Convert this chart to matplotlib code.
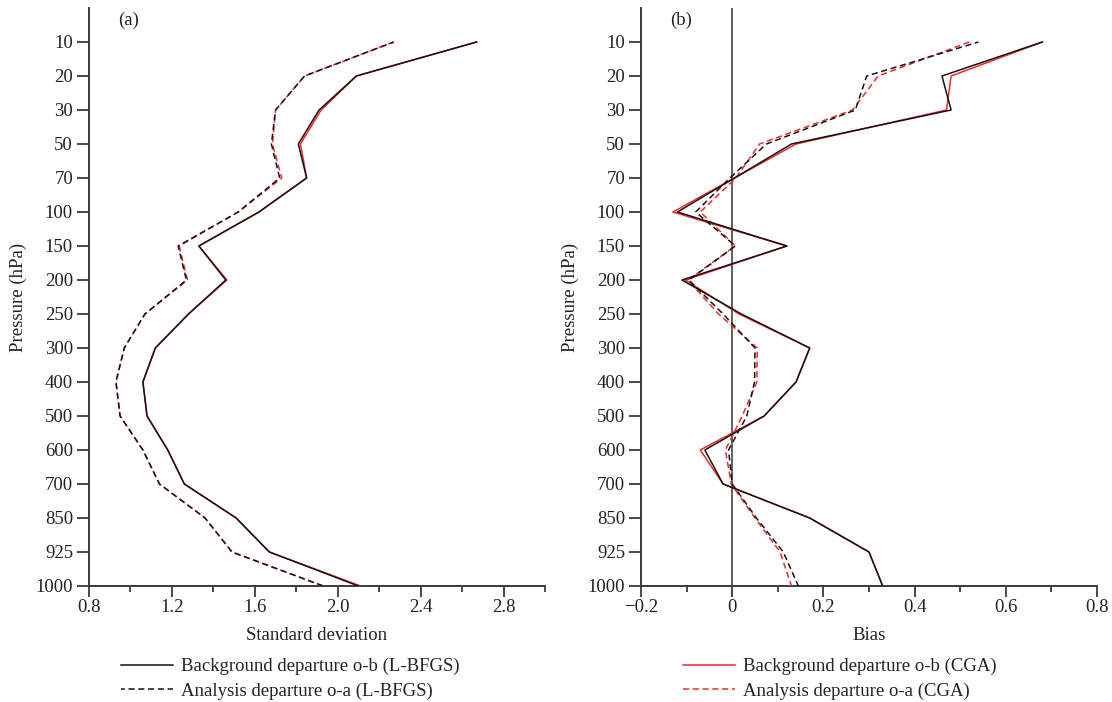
import numpy as np
import matplotlib
matplotlib.use("Agg")
import matplotlib.pyplot as plt
from matplotlib.ticker import MultipleLocator

plt.rcParams['font.family'] = ['Liberation Serif', 'DejaVu Serif']
plt.rcParams['mathtext.fontset'] = 'stix'

# ---------------- data ----------------
levels = ["10", "20", "30", "50", "70", "100", "150", "200", "250", "300",
          "400", "500", "600", "700", "850", "925", "1000"]

# (a) standard deviation
std_ob_lbfgs = [2.67, 2.09, 1.91, 1.81, 1.85, 1.62, 1.33, 1.46, 1.28, 1.12,
                1.06, 1.08, 1.18, 1.26, 1.51, 1.67, 2.10]
std_oa_lbfgs = [2.27, 1.84, 1.70, 1.68, 1.72, 1.52, 1.23, 1.27, 1.07, 0.97,
                0.93, 0.95, 1.06, 1.14, 1.36, 1.49, 1.93]
std_ob_cga = [2.67, 2.09, 1.92, 1.82, 1.85, 1.62, 1.33, 1.465, 1.28, 1.12,
              1.06, 1.08, 1.18, 1.26, 1.51, 1.67, 2.11]
std_oa_cga = [2.27, 1.84, 1.70, 1.685, 1.73, 1.52, 1.235, 1.275, 1.07, 0.97,
              0.93, 0.95, 1.06, 1.14, 1.36, 1.49, 1.93]

# (b) bias
bias_ob_lbfgs = [0.68, 0.46, 0.48, 0.13, 0.005, -0.12, 0.12, -0.11, 0.02, 0.17,
                 0.14, 0.07, -0.06, -0.02, 0.17, 0.30, 0.33]
bias_oa_lbfgs = [0.54, 0.295, 0.27, 0.075, -0.005, -0.08, 0.007, -0.095, -0.02, 0.05,
                 0.049, 0.032, -0.008, 0.0, 0.053, 0.112, 0.145]
bias_ob_cga = [0.68, 0.48, 0.47, 0.14, 0.005, -0.13, 0.12, -0.103, 0.015, 0.17,
               0.14, 0.07, -0.07, -0.02, 0.17, 0.30, 0.33]
bias_oa_cga = [0.52, 0.32, 0.264, 0.06, 0.008, -0.07, 0.007, -0.097, -0.03, 0.055,
               0.054, 0.022, -0.015, -0.002, 0.05, 0.105, 0.13]

std_ticks = [0.8, 1.2, 1.6, 2.0, 2.4, 2.8]
std_ticklabels = ["0.8", "1.2", "1.6", "2.0", "2.4", "2.8"]
bias_ticks = [-0.2, 0.0, 0.2, 0.4, 0.6, 0.8]
bias_ticklabels = ["\u22120.2", "0", "0.2", "0.4", "0.6", "0.8"]

lab_ob_lbfgs = "Background departure o-b (L-BFGS)"
lab_oa_lbfgs = "Analysis departure o-a (L-BFGS)"
lab_ob_cga = "Background departure o-b (CGA)"
lab_oa_cga = "Analysis departure o-a (CGA)"

# ---------------- style ----------------
W, H = 1112, 702
TXT = '#222222'
AXC = '#3a3a3a'
RED = '#ee2a2a'
BLK = '#1a1010'
FS_TICK = 13.5
FS_LAB = 13.5
LW = 1.1
DASH = (4.0, 2.4)

fig = plt.figure(figsize=(W / 100, H / 100), dpi=100)

ax_top = 1 - 8 / H
ax_bot = 1 - 586 / H
axA = fig.add_axes([89 / W, ax_bot, (545 - 89) / W, ax_top - ax_bot])
axB = fig.add_axes([641 / W, ax_bot, (1097 - 641) / W, ax_top - ax_bot])

y = np.arange(len(levels))


def style_axis(ax, xlim, ticks, ticklabels, minor, xlabel, tag):
    ax.set_ylim(len(levels) - 1, -1)
    ax.set_xlim(*xlim)
    ax.set_yticks(y)
    ax.set_yticklabels(levels)
    ax.set_xticks(ticks)
    ax.set_xticklabels(ticklabels)
    ax.xaxis.set_minor_locator(MultipleLocator(minor))
    for s in ['top', 'right']:
        ax.spines[s].set_visible(False)
    for s in ['left', 'bottom']:
        ax.spines[s].set_color(AXC)
        ax.spines[s].set_linewidth(1.4)
    ax.tick_params(axis='y', which='major', direction='out', length=8.5, width=1.3,
                   color=AXC, labelsize=FS_TICK, labelcolor=TXT, pad=3)
    ax.tick_params(axis='x', which='major', direction='out', length=8, width=1.3,
                   color=AXC, labelsize=FS_TICK, labelcolor=TXT, pad=1.5)
    ax.tick_params(axis='x', which='minor', direction='out', length=4.5, width=1.3,
                   color=AXC)
    ax.set_ylabel("Pressure (hPa)", fontsize=FS_LAB, color=TXT, va='center')
    ax.yaxis.set_label_coords(-71 / 456, 0.5)
    ax.set_xlabel(xlabel, fontsize=FS_LAB, color=TXT)
    ax.xaxis.set_label_coords(0.5, -(635 - 586) / 578)
    ax.xaxis.label.set_va('center')
    ax.text(29 / 456, (586 - 20) / 578, tag, transform=ax.transAxes,
            fontsize=FS_LAB, color=TXT, ha='left', va='center')


# panel (a)
axA.plot(std_ob_cga, y, color=RED, lw=LW, zorder=3)
axA.plot(std_oa_cga, y, color=RED, lw=LW, ls=(0, DASH), zorder=3)
hA1, = axA.plot(std_ob_lbfgs, y, color=BLK, lw=LW, zorder=4, label=lab_ob_lbfgs)
hA2, = axA.plot(std_oa_lbfgs, y, color=BLK, lw=LW, ls=(1.5, DASH), zorder=4, label=lab_oa_lbfgs)
style_axis(axA, (0.8, 3.0), std_ticks, std_ticklabels, 0.2, "Standard deviation", "(a)")

# panel (b)
axB.axvline(0, color='#444444', lw=1.2, zorder=2)
hB1, = axB.plot(bias_ob_cga, y, color=RED, lw=LW, zorder=3, label=lab_ob_cga)
hB2, = axB.plot(bias_oa_cga, y, color=RED, lw=LW, ls=(0, DASH), zorder=3, label=lab_oa_cga)
axB.plot(bias_ob_lbfgs, y, color=BLK, lw=LW, zorder=4)
axB.plot(bias_oa_lbfgs, y, color=BLK, lw=LW, ls=(1.5, DASH), zorder=4)
style_axis(axB, (-0.2, 0.8), bias_ticks, bias_ticklabels, 0.1, "Bias", "(b)")


def make_legend(ax, handles, x_px, ax_left):
    leg = ax.legend(handles=handles, loc='upper left',
                    bbox_to_anchor=((x_px - ax_left) / 456, -(658 - 586) / 578),
                    frameon=False, fontsize=FS_LAB, handlelength=2.75,
                    handletextpad=0.45, labelspacing=0.38, borderpad=0,
                    borderaxespad=0)
    for t in leg.get_texts():
        t.set_color(TXT)
    return leg


make_legend(axA, [hA1, hA2], 121, 89)
make_legend(axB, [hB1, hB2], 683, 641)

fig.savefig("out.png", dpi=100)
